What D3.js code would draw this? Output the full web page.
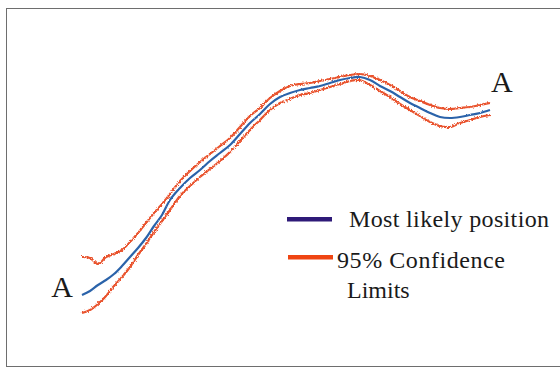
<!DOCTYPE html>
<html>
<head>
    <title>Most likely position</title>
    <script src="https://d3js.org/d3.v7.min.js"></script>
    <style>
        body { margin: 0; background: #fff; }
        text { font-family: "Liberation Serif", "DejaVu Serif", serif; fill: #1a1a1a; }
    </style>
</head>
<body>
<svg width="560" height="369"></svg>
<script>
    // along-track distance and cross-track position (arbitrary units)
    const dist = [0, 4, 8, 12, 16, 20, 24, 28, 32, 36, 40, 44,
        49, 54, 59, 64, 69, 74, 79, 84, 89, 94, 99, 104, 109, 114, 119, 124, 129, 134,
        139, 144, 149, 154, 159, 164, 169, 174, 179, 184, 189, 194, 199, 204];
    const likely = [12.5, 14.5, 17.5, 20, 23, 27, 31.5, 36, 41, 47, 52.5, 60,
        66, 71, 75, 79.5, 83.5, 87.5, 93, 98.5, 103, 108, 111.5, 113.5, 115, 116, 117, 118.5, 120, 121,
        121.5, 120, 117, 114.5, 111.5, 108.5, 106, 103.5, 101.5, 101, 101.5, 102.5, 103.5, 105];
    const upper95 = [31.5, 31, 28, 31.5, 33, 35, 39, 43.5, 48.5, 53.5, 58, 63,
        69.5, 74.5, 79, 83, 87, 91, 96.5, 102, 106, 111, 114.5, 117, 118, 118.5, 119.5, 120.5, 121.5, 122.5,
        123, 122, 120, 117.5, 114.5, 111.5, 109.5, 107.5, 106, 105.5, 106, 106.5, 107.5, 108.5];
    const lower95 = [3.5, 5, 8, 12, 17, 21.5, 26.5, 32.5, 38, 44, 49.5, 55,
        62, 67, 71.5, 75.5, 79.5, 84, 89.5, 95, 100, 105, 108.5, 110.5, 112.5, 113.5, 115, 116.5, 118, 119.5,
        120, 117.5, 114.5, 111.5, 108, 105, 102, 99, 97, 96.5, 98.5, 100, 101.5, 102.5];
    const legendLabels = ["Most likely position", "95% Confidence", "Limits"];
    const endLabel = "A";

    const svg = d3.select("svg");

    const x = d3.scaleLinear().domain([0, 204]).range([82, 490]);
    const y = d3.scaleLinear().domain([0, 130]).range([320, 60]);

    // rough, hand-drawn look of the traces
    const defs = svg.append("defs");
    function roughen(id, freq, amount) {
        const f = defs.append("filter").attr("id", id)
            .attr("filterUnits", "userSpaceOnUse")
            .attr("x", 0).attr("y", 0).attr("width", 560).attr("height", 369);
        f.append("feTurbulence").attr("type", "fractalNoise")
            .attr("baseFrequency", freq).attr("numOctaves", 2).attr("seed", 7)
            .attr("result", "noise");
        f.append("feDisplacementMap").attr("in", "SourceGraphic").attr("in2", "noise")
            .attr("scale", amount).attr("xChannelSelector", "R").attr("yChannelSelector", "G");
    }
    roughen("roughOrange", 0.7, 3.5);
    roughen("roughBlue", 0.5, 2);

    // frame
    svg.append("rect")
        .attr("x", 6.5).attr("y", 8.5)
        .attr("width", 560).attr("height", 358)
        .attr("fill", "none")
        .attr("stroke", "#6e6e6e")
        .attr("stroke-width", 1);

    const line = vals => d3.line()
        .x((d, i) => x(dist[i]))
        .y(d => y(d))
        .curve(d3.curveCatmullRom)(vals);

    [upper95, lower95].forEach(vals => {
        svg.append("path")
            .attr("d", line(vals))
            .attr("fill", "none")
            .attr("stroke", "#e9532d")
            .attr("stroke-width", 2.2)
            .attr("filter", "url(#roughOrange)");
    });

    svg.append("path")
        .attr("d", line(likely))
        .attr("fill", "none")
        .attr("stroke", "#2c63aa")
        .attr("stroke-width", 2.2)
        .attr("filter", "url(#roughBlue)");

    // end labels
    svg.append("text")
        .attr("x", x(dist[0]) - 9).attr("y", 297)
        .attr("text-anchor", "end")
        .style("font-size", "30px")
        .text(endLabel);

    svg.append("text")
        .attr("x", x(dist[dist.length - 1]) + 1).attr("y", 92)
        .style("font-size", "30px")
        .text(endLabel);

    // legend
    const legend = svg.append("g");

    legend.append("rect")
        .attr("x", 287).attr("y", 217).attr("width", 45).attr("height", 4.5)
        .attr("fill", "#2e1a78");
    legend.append("text")
        .attr("x", 349).attr("y", 227)
        .style("font-size", "24px")
        .attr("textLength", 200)
        .text(legendLabels[0]);

    legend.append("rect")
        .attr("x", 288).attr("y", 255).attr("width", 45).attr("height", 4.5)
        .attr("fill", "#ef4512");
    legend.append("text")
        .attr("x", 337).attr("y", 268)
        .style("font-size", "24px")
        .attr("textLength", 168)
        .text(legendLabels[1]);
    legend.append("text")
        .attr("x", 347).attr("y", 298)
        .style("font-size", "24px")
        .text(legendLabels[2]);
</script>
</body>
</html>
